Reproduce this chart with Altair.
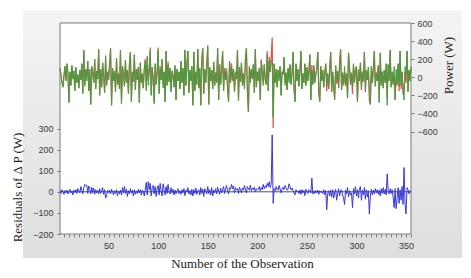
import altair as alt
import pandas as pd

# ---- data ----
fitted_power = [
    100, 30, -60, -110, 20, 120, -40, 150, 40, -280, 60, -90, 130, -20, 70, -150, 110, -60, 30, -120,
    80, -30, 150, -180, 300, -100, 60, -40, 180, -150, 90, -300, 120, 40, -60, 200, -130, 70, -20, 310,
    -200, 90, -110, 160, 20, -170, 240, -90, 60, -30, 150, 320, -310, 100, -40, 70, -160, 210, -80, 40,
    -130, 300, -290, 120, 30, -100, 190, -60, 80, -180, 140, 280, -270, 60, -50, 250, -140, 90, -30, 110,
    -280, 160, -60, 40, -120, 90, 180, -150, 230, -90, 70, 290, -200, 110, -40, -290, 150, -80, 60, 300,
    -180, 80, -30, 200, -120, 60, -270, 290, -90, 140, -50, 100, -160, 70, 20, -110, 130, -250, 90, -40,
    60, -130, 180, -60, 100, -200, 300, -90, 150, 290, -170, 80, -40, 120, -310, 280, -150, 60, -80, 310,
    -120, 100, -310, 200, 320, -180, 90, -60, 140, 330, -300, 110, -40, 80, -130, 170, -90, 50, -60, 320,
    -250, 140, -80, 60, 290, -150, 100, -30, 70, -120, -270, 180, -60, 120, -40, 90, -160, 60, -20, 300,
    -260, 110, -50, 160, -90, 40, -130, 200, 320, -150, -380, 120, -60, 90, -20, 140, -170, 310, -110, 60,
    -40, 100, -250, 180, 60, -90, 140, -30, -80, 250, -150, 180, 60, 190, 170, -440, 150, -60, 90, -110,
    80, -40, 120, -200, 60, 30, 220, -90, 50, -140, 100, -60, 140, -80, 30, 280, -120, -270, 150, -40,
    90, -100, 60, 290, -130, 40, -60, 150, -90, 110, -40, 60, 250, -250, 70, -80, 130, -60, 30, 100,
    280, -170, -270, 120, -40, 80, -110, 50, 150, -70, 40, -130, 90, 280, -160, 60, -80, -250, 130, -30,
    70, -120, 160, 310, -140, 50, -60, 120, -90, 40, -230, 270, 100, -80, 50, -110, 150, -60, 80, 120,
    -270, 90, -40, 160, -100, 60, -50, 280, -130, 80, -30, 110, -150, -300, 120, -60, 90, 290, -100, 50,
    -40, 130, -280, 270, -90, 60, -120, 80, -60, 150, -310, 140, -40, 300, -110, 60, -80, 120, -250, 90,
    -60, 150, -100, 290, -90, 60, -130, -250, 120, 40, 290, -160, 80, -40, 110,
]

actual_power = [
    100, 30, -60, -110, 20, 120, -40, 150, 40, -280, 60, -90, 130, -20, 70, -150, 110, -60, 30, -120,
    80, -30, 150, -180, 300, -65, 90, -8, 180, -150, 90, -300, 120, 40, -60, 200, -130, 70, -20, 310,
    -200, 90, -110, 160, 20, -170, 210, -90, 60, -30, 150, 320, -310, 100, -40, 70, -160, 210, -80, 40,
    -130, 300, -290, 120, 30, -100, 190, -60, 80, -180, 140, 280, -270, 60, -50, 250, -140, 90, -30, 110,
    -280, 160, -60, 40, -120, 90, 200, -105, 230, -42, 70, 330, -200, 110, -10, -290, 150, -80, 60, 330,
    -180, 120, -30, 200, -82, 60, -270, 290, -90, 175, -50, 100, -160, 70, 20, -110, 130, -250, 90, -40,
    60, -130, 180, -60, 100, -200, 300, -90, 150, 290, -170, 80, -40, 120, -310, 280, -150, 60, -80, 310,
    -120, 100, -310, 200, 320, -180, 90, -60, 140, 355, -300, 110, -40, 80, -130, 170, -90, 50, -60, 320,
    -250, 140, -80, 60, 290, -150, 100, -30, 100, -120, -270, 180, -60, 155, -40, 90, -160, 60, -20, 300,
    -260, 110, -50, 160, -90, 40, -100, 200, 320, -150, -380, 120, -28, 90, -20, 140, -170, 310, -110, 60,
    -40, 100, -250, 200, 60, -55, 140, -30, -80, 290, -150, 228, 60, 225, 440, -560, 150, -60, 90, -110,
    80, -10, 120, -200, 60, 30, 220, -60, 50, -140, 100, -22, 140, -80, 30, 280, -120, -270, 150, -40,
    90, -100, 60, 290, -130, 40, -60, 150, -90, 110, -40, 60, 250, -250, 135, -80, 130, -60, 30, 100,
    280, -170, -270, 120, -40, 80, -110, 50, 150, -155, 40, -130, 90, 280, -160, 60, -110, -250, 130, -70,
    70, -120, 160, 310, -140, 50, -90, 60, -90, 40, -230, 270, 100, -80, 50, -185, 150, -60, 80, 120,
    -270, 60, -40, 160, -140, 60, -50, 280, -165, 80, -30, 110, -255, -300, 120, -60, 90, 290, -100, 50,
    -40, 130, -280, 270, -90, 60, -120, 80, -60, 150, -225, 140, -40, 300, -110, 60, -80, 45, -250, 10,
    -90, 150, -155, 290, -130, 60, -190, -135, 60, -65, 290, -160, 80, -40, 110,
]

residuals = [
    5, -8, 10, 0, -12, 6, -5, 8, -10, 3, 12, -6, 4, -15, 8, -3, 10, -8, 15, 5,
    -5, 25, 8, -10, 20, 35, 30, 32, -8, 28, 15, -10, 22, -5, 18, -12, 10, -6, 8, -10,
    15, -8, 5, 20, -12, 10, -30, -18, 6, -4, 8, -10, 12, 0, -15, 5, -8, 10, -20, 4,
    -10, 8, -15, 20, -5, 25, -8, 12, -22, 5, -10, 15, -6, 8, -20, 10, -12, 4, -8, 12,
    -5, 10, -15, 8, 4, -20, 12, 45, -15, 48, 10, 40, -20, 20, 30, -10, 25, -22, 15, 30,
    -15, 40, 5, -20, 38, 10, -15, 25, -8, 35, 0, -10, 20, -5, 12, -15, 8, -10, 5, 15,
    -8, 5, -12, 10, -5, 15, -18, 8, 0, 20, -10, 6, -15, 12, -20, 10, -8, 18, -12, 5,
    10, -15, 20, -8, 12, -22, 15, 5, -10, 25, -8, 10, -15, 20, -20, 8, -5, 15, -10, 22,
    4, -12, 18, -5, 10, 25, -8, 15, 30, 5, -10, 20, 12, 35, 15, 28, -5, 20, 10, 15,
    -8, 22, 10, -5, 18, 8, 30, 12, -5, 25, 15, 8, 32, 5, 18, 10, 22, 0, 15, 8,
    12, 25, 5, 20, 10, 35, 15, 28, 20, 40, 25, 48, 20, 35, 270, -55, 15, 5, 25, 10,
    8, 30, 12, -5, 15, 22, 10, 30, 20, 8, 12, 38, 25, 10, 18, 5, -5, -15, 10, 0,
    5, -8, 8, -12, 10, -5, 6, -18, 12, 0, -8, 10, 5, -6, 65, -10, 4, -8, 6, -5,
    8, -12, 5, -3, 0, -8, 10, -15, 6, -85, -10, 5, -20, 8, -25, 10, -30, -5, 12, -40,
    -8, 15, -20, 5, 10, -15, -30, -60, 8, -10, 20, -25, 5, -15, -5, -75, 15, -10, 25, -20,
    10, -30, 15, 25, -40, 8, -15, 20, -35, 10, -25, 5, -105, -20, 12, -15, 8, -10, 15, -5,
    10, -12, 8, -20, 15, -8, 20, -10, 12, -15, 85, 5, -10, 15, -8, 10, -25, -75, 15, -80,
    -30, 20, -55, 10, -40, 25, -60, 115, -60, -105, 20, 10, -10, 5, 0,
]

x_tick_values = list(range(5, 360, 5))
resid_tick_values = [-200, -100, 0, 100, 200, 300]
power_tick_values = [-600, -400, -200, 0, 200, 400, 600]

n = len(fitted_power)
df = pd.DataFrame({
    "obs": list(range(1, n + 1)),
    "fitted": fitted_power,
    "actual": actual_power,
    "resid": residuals,
})
one = pd.DataFrame({"k": [0]})

W, H = 351, 211
LABEL_FONT = "Liberation Sans"
TITLE_FONT = "Liberation Serif"

axis_common = dict(
    domain=False, grid=False, ticks=True, tickSize=3, tickColor="#7a7a7a",
    labelFont=LABEL_FONT, labelFontSize=9, labelColor="#3a3a3a",
    titleFont=TITLE_FONT, titleFontSize=13, titleFontWeight="normal", titleColor="#222222",
    zindex=2,
)

x_enc = alt.X(
    "obs:Q",
    scale=alt.Scale(domain=[1, 355], nice=False, zero=False),
    axis=alt.Axis(
        values=x_tick_values,
        labelExpr="datum.value % 50 === 0 ? datum.label : ''",
        labelOverlap=False, labelFlush=False, labelPadding=4,
        title="Number of the Observation",
        titleX=182, titleY=29, titleAlign="center", titleBaseline="middle",
        **axis_common,
    ),
)

power_scale = alt.Scale(domain=[-1733, 600], nice=False, zero=False)
power_axis = alt.Axis(
    orient="right", values=power_tick_values, labelPadding=3,
    title="Power (W)", titleAngle=270, titleX=37, titleY=42,
    titleAlign="center", titleBaseline="middle",
    **axis_common,
)
resid_scale = alt.Scale(domain=[-200, 800], nice=False, zero=False)
resid_axis = alt.Axis(
    orient="left", values=resid_tick_values, labelPadding=4,
    title="Residuals of Δ P (W)", titleAngle=270, titleX=-43, titleY=164,
    titleAlign="center", titleBaseline="middle",
    **axis_common,
)

panel_bg = alt.Chart(one).mark_rect(
    fill=alt.Gradient(
        gradient="linear",
        stops=[alt.GradientStop(color="#f4f4f4", offset=0),
               alt.GradientStop(color="#dedede", offset=1)],
        x1=0, x2=0, y1=0, y2=1,
    ),
).encode(x=alt.value(-37), x2=alt.value(402), y=alt.value(-13), y2=alt.value(235))

plot_bg = alt.Chart(one).mark_rect(
    fill="white", stroke="#7a7a7a", strokeWidth=1,
).encode(x=alt.value(0), x2=alt.value(W), y=alt.value(0), y2=alt.value(H))

actual_line = alt.Chart(df).mark_line(color="#e25050", strokeWidth=1.2).encode(
    x=x_enc, y=alt.Y("actual:Q", scale=power_scale, axis=power_axis)
)
fitted_line = alt.Chart(df).mark_line(color="#42a03e", strokeWidth=1).encode(
    x=x_enc, y=alt.Y("fitted:Q", scale=power_scale, axis=power_axis)
)
power_layer = alt.layer(actual_line, fitted_line)

zero_rule = alt.Chart(one).mark_rule(color="#4a4a70", strokeWidth=1).encode(
    y=alt.datum(0)
)
resid_line = alt.Chart(df).mark_line(color="#3838d4", strokeWidth=1).encode(
    x=x_enc, y=alt.Y("resid:Q", scale=resid_scale, axis=resid_axis)
)
resid_layer = alt.layer(zero_rule, resid_line)

chart = alt.layer(
    panel_bg, plot_bg, power_layer, resid_layer
).resolve_scale(
    y="independent"
).properties(
    width=W, height=H,
    autosize=alt.AutoSizeParams(type="none"),
    padding={"left": 52, "top": 15, "right": 52, "bottom": 36},
    background="white",
).configure_view(stroke=None)

chart.save("out.html", embed_options={"renderer": "svg", "actions": False})
